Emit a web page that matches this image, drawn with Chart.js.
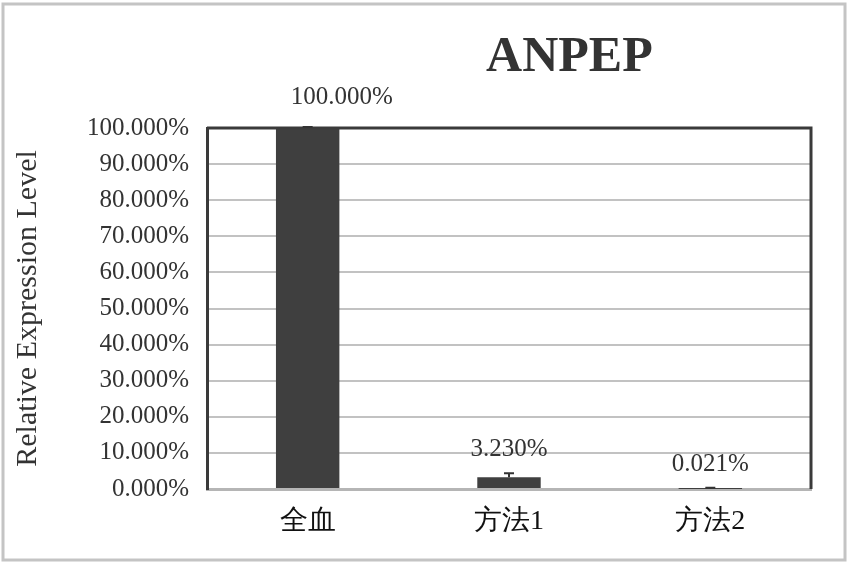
<!DOCTYPE html>
<html>
<head>
<meta charset="utf-8">
<script src="https://cdn.jsdelivr.net/npm/chart.js@4/dist/chart.umd.min.js"></script>
<style>
  html, body { margin: 0; padding: 0; background: #fff; }
  #wrap { width: 849px; height: 565px; }
</style>
</head>
<body>
<div id="wrap"><canvas id="c" width="849" height="565"></canvas></div>
<script>
// datos
const categorias = ['全血', '方法1', '方法2'];
const valores = [100, 3.23, 0.021];
const errores = [0.3, 1.1, 0.3];
const etiquetas = ['100.000%', '3.230%', '0.021%'];
const tituloGrafico = 'ANPEP';
const tituloEjeY = 'Relative Expression Level';

const SERIF = '"Liberation Serif", "Times New Roman", serif';
const TXT = '#333333';

// marco exterior, borde del area, barras de error y etiquetas
const extras = {
  id: 'extras',
  beforeDraw(chart) {
    const ctx = chart.ctx;
    ctx.save();
    ctx.fillStyle = '#fff';
    ctx.fillRect(0, 0, chart.width, chart.height);
    ctx.strokeStyle = '#c4c4c4';
    ctx.lineWidth = 3;
    ctx.strokeRect(3, 4, chart.width - 7, chart.height - 9);
    ctx.restore();
  },
  afterDatasetsDraw(chart, args, opts) {
    const ctx = chart.ctx;
    const a = chart.chartArea;
    const y = chart.scales.y;
    const meta = chart.getDatasetMeta(0);
    ctx.save();
    // borde superior y derecho oscuro
    ctx.strokeStyle = '#3a3a3a';
    ctx.lineWidth = 3;
    ctx.beginPath();
    ctx.moveTo(a.left, a.top);
    ctx.lineTo(a.right, a.top);
    ctx.lineTo(a.right, a.bottom);
    ctx.stroke();

    meta.data.forEach((bar, i) => {
      const top = y.getPixelForValue(valores[i]);
      const capY = y.getPixelForValue(valores[i] + errores[i]);
      ctx.strokeStyle = '#333';
      ctx.lineWidth = 2;
      ctx.beginPath();
      ctx.moveTo(bar.x, top);
      ctx.lineTo(bar.x, capY);
      ctx.moveTo(bar.x - 5, capY);
      ctx.lineTo(bar.x + 5, capY);
      ctx.stroke();

      const nudge = opts.nudge[i] || [0, 0];
      ctx.fillStyle = TXT;
      ctx.font = '25px ' + SERIF;
      ctx.textAlign = 'center';
      ctx.textBaseline = 'middle';
      ctx.fillText(etiquetas[i], bar.x + nudge[0], top - 31 + nudge[1]);
    });

    // titulo
    ctx.fillStyle = TXT;
    ctx.font = 'bold 50px ' + SERIF;
    ctx.textAlign = 'center';
    ctx.textBaseline = 'middle';
    ctx.fillText(tituloGrafico, a.left + (a.right - a.left) * 0.6, 58);
    ctx.restore();
  }
};

new Chart(document.getElementById('c'), {
  type: 'bar',
  data: {
    labels: categorias,
    datasets: [{
      data: valores,
      backgroundColor: '#3f3f3f',
      borderWidth: 0,
      barPercentage: 0.315,
      categoryPercentage: 1
    }]
  },
  options: {
    responsive: false,
    animation: false,
    layout: { padding: { left: 0, top: 128, right: 38, bottom: 0 } },
    plugins: {
      legend: { display: false },
      tooltip: { enabled: false },
      extras: { nudge: [[34, 0], [0, 3], [0, 7]] }
    },
    scales: {
      x: {
        grid: { display: false, drawTicks: false },
        border: { display: true, color: '#b5b5b5', width: 3 },
        ticks: { color: '#111', font: { size: 28, family: SERIF }, padding: 16 },
        afterFit(s) { s.height = 565 - 489; }
      },
      y: {
        min: 0,
        max: 100,
        ticks: {
          stepSize: 10,
          color: TXT,
          font: { size: 25, family: SERIF },
          padding: 18,
          callback: v => v.toFixed(3) + '%'
        },
        grid: { color: '#c2c2c2', lineWidth: 2, drawTicks: false },
        border: { display: true, color: '#3a3a3a', width: 3 },
        title: {
          display: true,
          text: tituloEjeY,
          color: TXT,
          font: { size: 30, family: SERIF },
          padding: { top: 10, bottom: 0 }
        },
        afterFit(s) { s.width = 207; }
      }
    }
  },
  plugins: [extras]
});
</script>
</body>
</html>
